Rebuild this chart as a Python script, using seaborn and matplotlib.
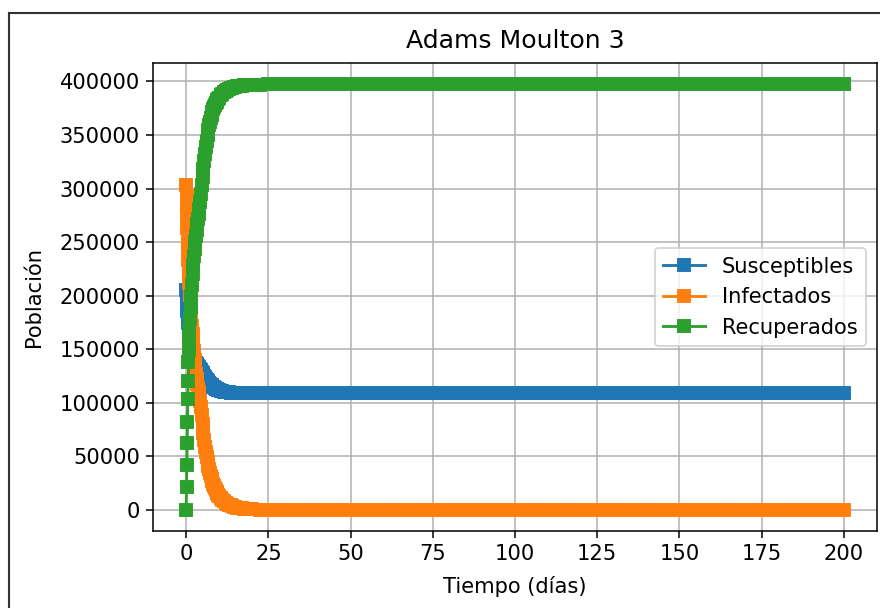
import matplotlib
matplotlib.use("Agg")
import matplotlib.pyplot as plt
from matplotlib.lines import Line2D
import pandas as pd
import seaborn as sns

# Tiempo (días): paso fino al inicio, más grueso en el estado estacionario
t_dias = [
    0.0, 0.1, 0.2, 0.3, 0.4, 0.5, 0.6, 0.7, 0.8, 0.9, 1.0,
    1.2, 1.4, 1.6, 1.8, 2.0, 2.2, 2.4, 2.6, 2.8, 3.0, 3.2, 3.4, 3.6, 3.8, 4.0,
    4.25, 4.5, 4.75, 5.0, 5.25, 5.5, 5.75, 6.0, 6.25, 6.5, 6.75, 7.0,
    7.25, 7.5, 7.75, 8.0, 8.25, 8.5, 8.75, 9.0, 9.25, 9.5, 9.75, 10.0,
    10.5, 11.0, 11.5, 12.0, 12.5, 13.0, 13.5, 14.0, 14.5, 15.0,
    15.5, 16.0, 16.5, 17.0, 17.5, 18.0, 18.5, 19.0, 19.5, 20.0,
    22.5, 25, 27.5, 30, 32.5, 35, 37.5, 40, 42.5, 45, 47.5, 50,
    52.5, 55, 57.5, 60, 62.5, 65, 67.5, 70, 72.5, 75, 77.5, 80,
    82.5, 85, 87.5, 90, 92.5, 95, 97.5, 100, 102.5, 105, 107.5, 110,
    112.5, 115, 117.5, 120, 122.5, 125, 127.5, 130, 132.5, 135, 137.5, 140,
    142.5, 145, 147.5, 150, 152.5, 155, 157.5, 160, 162.5, 165, 167.5, 170,
    172.5, 175, 177.5, 180, 182.5, 185, 187.5, 190, 192.5, 195, 197.5, 200,
]

susceptibles = [
    205000, 200000, 195000, 190500, 186000, 182000, 178000, 174500, 171000, 168000, 165000,
    160000, 155500, 151500, 148000, 145000, 142500, 140500, 139000, 137800, 136800, 135900,
    135000, 134200, 133400, 132600,
    131500, 130300, 129000, 127700, 126300, 125000, 123700, 122500, 121400, 120300, 119300, 118400,
    117600, 116800, 116100, 115400, 114800, 114200, 113700, 113200, 112800, 112400, 112000, 111700,
    111100, 110700, 110300, 110000, 109800, 109600, 109500, 109400, 109300, 109200,
    109150, 109100, 109080, 109060, 109050, 109040, 109030, 109020, 109010, 109010,
    109000, 109000, 109000, 109000, 109000, 109000, 109000, 109000, 109000, 109000, 109000, 109000,
    109000, 109000, 109000, 109000, 109000, 109000, 109000, 109000, 109000, 109000, 109000, 109000,
    109000, 109000, 109000, 109000, 109000, 109000, 109000, 109000, 109000, 109000, 109000, 109000,
    109000, 109000, 109000, 109000, 109000, 109000, 109000, 109000, 109000, 109000, 109000, 109000,
    109000, 109000, 109000, 109000, 109000, 109000, 109000, 109000, 109000, 109000, 109000, 109000,
    109000, 109000, 109000, 109000, 109000, 109000, 109000, 109000, 109000, 109000, 109000, 109000,
]

infectados = [
    303000, 293500, 284000, 275500, 263000, 252000, 242000, 233000, 225000, 218000, 212000,
    201000, 191000, 181000, 172000, 164000, 156000, 148000, 140000, 133000, 127000, 122000,
    117500, 113500, 110000, 106500,
    101500, 96000, 88500, 80000, 72000, 65000, 59000, 54000, 49300, 45000, 41300, 38000,
    34600, 31500, 28900, 26500, 24200, 22000, 20200, 18500, 16900, 15500, 14200, 13000,
    11000, 9300, 7900, 6700, 5700, 4800, 4000, 3400, 2900, 2400,
    2000, 1700, 1400, 1200, 1000, 850, 700, 600, 500, 420,
    200, 100, 50, 0, 0, 0, 0, 0, 0, 0, 0, 0,
    0, 0, 0, 0, 0, 0, 0, 0, 0, 0, 0, 0,
    0, 0, 0, 0, 0, 0, 0, 0, 0, 0, 0, 0,
    0, 0, 0, 0, 0, 0, 0, 0, 0, 0, 0, 0,
    0, 0, 0, 0, 0, 0, 0, 0, 0, 0, 0, 0,
    0, 0, 0, 0, 0, 0, 0, 0, 0, 0, 0, 0,
]

recuperados = [
    0, 21500, 42000, 62700, 82400, 103000, 120000, 138000, 149000, 158000, 166000,
    178000, 189000, 200000, 210000, 220000, 229000, 237000, 244000, 250000, 256000, 261500,
    266500, 271500, 276000, 280500,
    287500, 295000, 303000, 311000, 318500, 326000, 332500, 339000, 344500, 350000, 354500, 359000,
    362500, 366000, 369000, 371500, 374000, 376000, 378000, 379500, 381000, 382500, 383800, 385000,
    387000, 388700, 390100, 391300, 392300, 393100, 393800, 394300, 394800, 395200,
    395500, 395800, 396000, 396200, 396400, 396500, 396600, 396700, 396800, 396900,
    397100, 397300, 397400, 397400, 397400, 397400, 397400, 397400, 397400, 397400, 397400, 397400,
    397400, 397400, 397400, 397400, 397400, 397400, 397400, 397400, 397400, 397400, 397400, 397400,
    397400, 397400, 397400, 397400, 397400, 397400, 397400, 397400, 397400, 397400, 397400, 397400,
    397400, 397400, 397400, 397400, 397400, 397400, 397400, 397400, 397400, 397400, 397400, 397400,
    397400, 397400, 397400, 397400, 397400, 397400, 397400, 397400, 397400, 397400, 397400, 397400,
    397400, 397400, 397400, 397400, 397400, 397400, 397400, 397400, 397400, 397400, 397400, 397400,
]

series = [
    ("Susceptibles", susceptibles, "#1f77b4"),
    ("Infectados", infectados, "#ff7f0e"),
    ("Recuperados", recuperados, "#2ca02c"),
]

df = pd.DataFrame({"t": t_dias, "Susceptibles": susceptibles,
                   "Infectados": infectados, "Recuperados": recuperados})

DPI = 137.5
fig = plt.figure(figsize=(880 / DPI, 608 / DPI), dpi=DPI)
ax = fig.add_axes([0.1742, 0.1266, 0.822, 0.7698])

for nombre, _, color in series:
    sns.lineplot(data=df, x="t", y=nombre, ax=ax, label=nombre, color=color,
                 marker="s", markersize=6, markeredgecolor=color,
                 markeredgewidth=1.0, linewidth=1.5, estimator=None)

FS = 11
ax.set_title("Adams Moulton 3", fontsize=13.2, pad=8)
ax.set_xlabel("Tiempo (días)", fontsize=FS, labelpad=6)
ax.set_ylabel("Población", fontsize=FS, labelpad=8)
ax.set_xticks([0, 25, 50, 75, 100, 125, 150, 175, 200])
ax.set_yticks([0, 50000, 100000, 150000, 200000, 250000, 300000, 350000, 400000])
ax.tick_params(labelsize=FS)
ax.grid(True, color="#b0b0b0", linewidth=0.8)
ax.legend(loc="center right", fontsize=FS)

# marco de la ventana
fig.add_artist(Line2D([8.5 / 880, 8.5 / 880], [0, 1 - 12.5 / 608],
                      color="#333333", linewidth=1.1))
fig.add_artist(Line2D([8.5 / 880, 1], [1 - 12.5 / 608, 1 - 12.5 / 608],
                      color="#333333", linewidth=1.1))

fig.savefig("out.png", dpi=DPI)
